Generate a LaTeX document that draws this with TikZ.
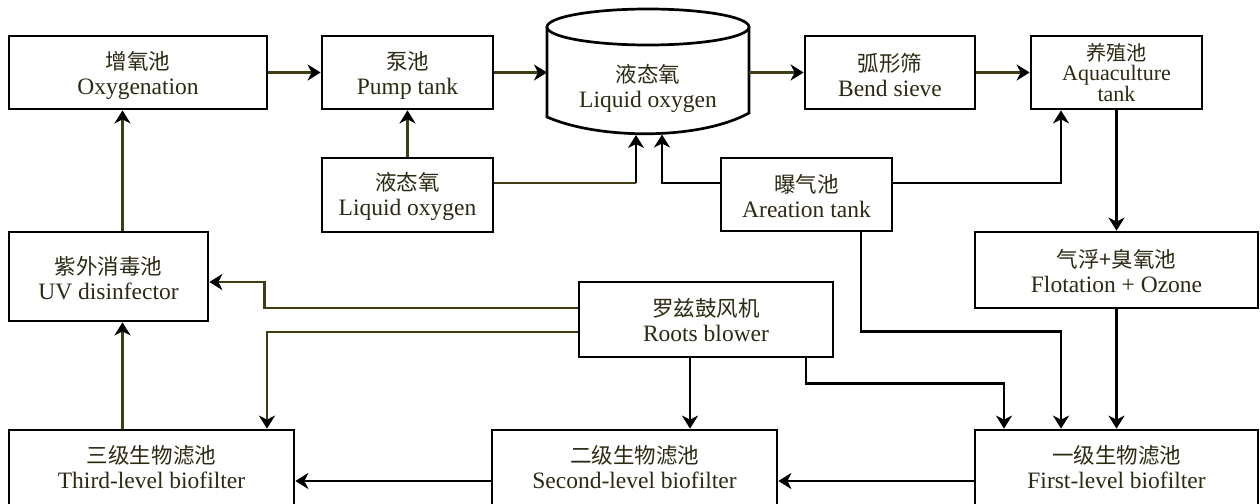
\documentclass[tikz,border=0pt]{standalone}
\usepackage{fontspec}
\setmainfont{Liberation Serif}
\newfontfamily\cjk[Scale=0.915]{Noto Sans CJK SC}
\usetikzlibrary{arrows.meta}
\definecolor{oliveline}{RGB}{64,61,18}
\definecolor{txt}{RGB}{44,42,18}
\newcommand\twol[2]{{\cjk #1}\\#2}
\begin{document}
\begin{tikzpicture}[x=1pt,y=-1pt,
  box/.style={draw=black, line width=2.7pt, fill=white, inner sep=0pt},
  lab/.style={inner sep=0pt, align=center, text=txt, font=\fontsize{23.5}{25}\selectfont},
  ol/.style={draw=oliveline, line width=2.7pt},
  bl/.style={draw=black, line width=2.7pt},
  arr/.style={-{Stealth[length=13pt,width=16pt,inset=4pt,color=black]}},
]
\useasboundingbox[fill=white] (0,0) rectangle (1260,503);

% nodes
\node[box, minimum width=258pt, minimum height=73pt,
  label={[lab,yshift=-3pt]center:{\twol{增氧池}{Oxygenation}}}] (oxy) at (138,72.5) {};
\node[box, minimum width=171pt, minimum height=73pt,
  label={[lab,yshift=-3pt]center:{\twol{泵池}{Pump tank}}}] (pump) at (407.5,72.5) {};
\node[box, minimum width=171pt, minimum height=74pt,
  label={[lab,yshift=-1.5pt]center:{\twol{液态氧}{Liquid oxygen}}}] (lo2) at (407.5,195) {};
\node[box, minimum width=170pt, minimum height=73pt,
  label={[lab,yshift=-3pt]center:{\twol{弧形筛}{Bend sieve}}}] (bend) at (890,72.5) {};
\node[box, minimum width=171pt, minimum height=73pt,
  label={[lab,yshift=0pt,font=\fontsize{22}{25}\selectfont]center:{{\cjk 养殖池}\\[-5pt]Aquaculture\\[-4pt]tank}}] (aqua) at (1116.5,72.5) {};
\node[box, minimum width=171pt, minimum height=73pt,
  label={[lab,yshift=-1.5pt]center:{\twol{曝气池}{Areation tank}}}] (aer) at (806.5,194.5) {};
\node[box, minimum width=199pt, minimum height=89pt,
  label={[lab,yshift=-1.5pt]center:{\twol{紫外消毒池}{UV disinfector}}}] (uv) at (108.5,276.5) {};
\node[box, minimum width=283pt, minimum height=76pt,
  label={[lab,yshift=-1pt]center:{\twol{气浮+臭氧池}{Flotation + Ozone}}}] (flo) at (1116.5,270) {};
\node[box, minimum width=254pt, minimum height=75pt,
  label={[lab,yshift=-1pt]center:{\twol{罗兹鼓风机}{Roots blower}}}] (roots) at (706,319.5) {};
\node[box, minimum width=285pt, minimum height=78pt,
  label={[lab,yshift=1.5pt]center:{\twol{三级生物滤池}{Third-level biofilter}}}] (third) at (151.5,469) {};
\node[box, minimum width=285pt, minimum height=78pt,
  label={[lab,yshift=1.5pt]center:{\twol{二级生物滤池}{Second-level biofilter}}}] (second) at (634.5,469) {};
\node[box, minimum width=283pt, minimum height=78pt,
  label={[lab,yshift=1.5pt]center:{\twol{一级生物滤池}{First-level biofilter}}}] (first) at (1116.5,469) {};

% cylinder (liquid oxygen tank)
\draw[line width=2.7pt, fill=white] (547,27) -- (547,117) .. controls (600,140) and (700,140) .. (749,113) -- (749,27);
\draw[line width=2.7pt, fill=white] (648,27) ellipse [x radius=101, y radius=18];
\node[lab] (cyl) at (648,88.5) {\twol{液态氧}{Liquid oxygen}};
\coordinate (cylW) at (547,72.5);
\coordinate (cylE) at (749,72.5);
\coordinate (cylB1) at (636,135);
\coordinate (cylB2) at (662,134.5);
\coordinate (j1) at (636,183);

% connectors
\draw[ol,arr] (oxy.east) -- (pump.west);
\draw[ol,arr] (pump.east) -- (cylW);
\draw[ol,arr] (lo2.north) -- (pump.south);
\draw[ol] ([yshift=12pt]lo2.east) -- (j1);
\draw[bl,arr] (j1) -- (cylB1);
\draw[bl,arr] ([yshift=11.5pt]aer.west) -| (cylB2);
\draw[bl,arr] ([yshift=11.5pt]aer.east) -| ([xshift=-55.5pt]aqua.south);
\draw[ol,arr] (cylE) -- (bend.west);
\draw[ol,arr] (bend.east) -- (aqua.west);
\draw[bl,arr] (aqua.south) -- (flo.north);
\draw[bl,arr] (flo.south) -- (first.north);
\draw[bl,arr] ([xshift=54.5pt]aer.south) -- ++(0,99) -| ([xshift=-55.5pt]first.north);
\draw[bl,arr] ([xshift=100pt]roots.south) -- ++(0,25) -| ([xshift=-112.5pt]first.north);
\coordinate (r1) at ([xshift=-16pt]roots.south);
\draw[bl,arr] (r1) -- (r1 |- second.north);
\draw[ol,arr] ([yshift=11.5pt]roots.west) -- ++(-313,0) |- ([yshift=-5.5pt]uv.east);
\draw[ol,arr] ([yshift=-12.5pt]roots.west) -| ([xshift=115.5pt]third.north);
\coordinate (t1) at ([xshift=-29pt]third.north);
\draw[ol,arr] (t1) -- (t1 |- uv.south);
\coordinate (t2) at ([xshift=14pt]uv.north);
\draw[ol,arr] (t2) -- (t2 |- oxy.south);
\draw[bl,arr] ([yshift=-12pt]first.west) -- ([yshift=-12pt]second.east);
\draw[bl,arr] ([yshift=-12pt]second.west) -- ([yshift=-12pt]third.east);
\end{tikzpicture}
\end{document}
